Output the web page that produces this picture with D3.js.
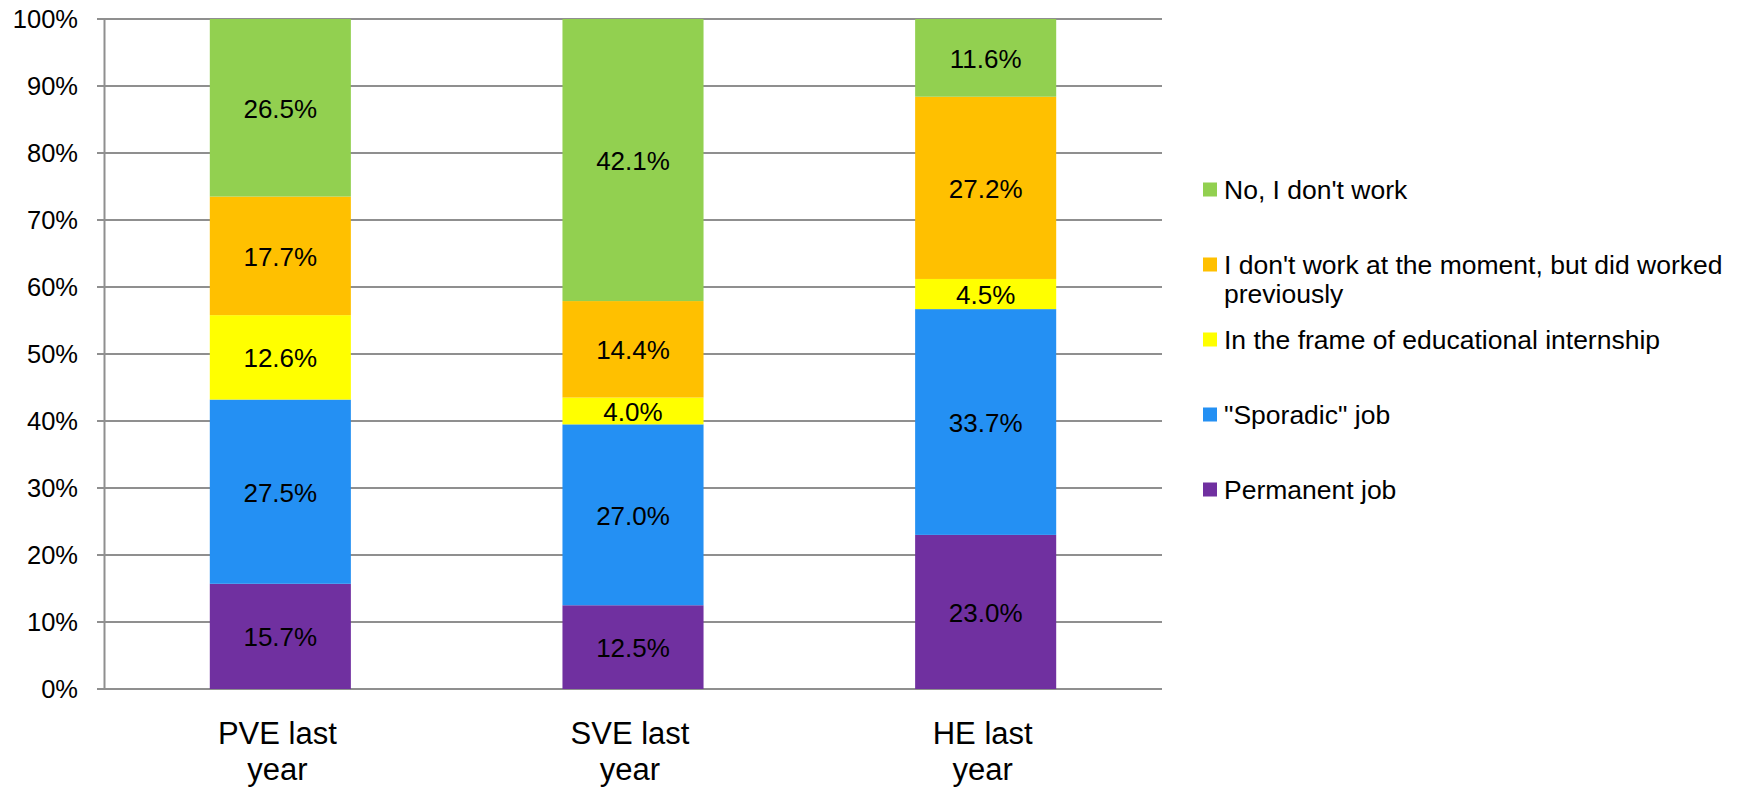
<!DOCTYPE html>
<html>
<head>
<meta charset="utf-8">
<script src="https://cdn.jsdelivr.net/npm/d3@7"></script>
<style>
    body { margin: 0; background: #fff; }
    svg { display: block; font-family: "Liberation Sans", Arial, sans-serif; }
</style>
</head>
<body>
<div id="stacked-bar-chart"></div>
<script>
// data (percentages)
const categories = ["PVE last year", "SVE last year", "HE last year"];
const permanentJob = [15.7, 12.5, 23.0];
const sporadicJob = [27.5, 27.0, 33.7];
const internship = [12.6, 4.0, 4.5];
const previouslyWorked = [17.7, 14.4, 27.2];
const noWork = [26.5, 42.1, 11.6];
const seriesNames = ["Permanent job", "\"Sporadic\" job", "In the frame of educational internship",
    "I don't work at the moment, but did worked previously", "No, I don't work"];
const seriesColors = ["#7030A0", "#2490F3", "#FFFF00", "#FFC000", "#92D050"];
const yTicks = [0, 10, 20, 30, 40, 50, 60, 70, 80, 90, 100];

let margin = {top: 19, right: 579, bottom: 98, left: 104};
let width = 1741 - margin.left - margin.right;
let height = 787 - margin.top - margin.bottom;

let keys = ["permanent", "sporadic", "internship", "previously", "none"];
let dataset = categories.map(function (c, i) {
    return {
        category: c,
        permanent: permanentJob[i],
        sporadic: sporadicJob[i],
        internship: internship[i],
        previously: previouslyWorked[i],
        none: noWork[i]
    };
});

let svg = d3.select("#stacked-bar-chart")
    .append("svg")
    .attr("width", width + margin.left + margin.right)
    .attr("height", height + margin.top + margin.bottom);

let g = svg.append("g")
    .attr("transform", "translate(" + margin.left + "," + margin.top + ")");

let x = d3.scaleBand()
    .domain(categories)
    .range([0, width])
    .paddingInner(0.6)
    .paddingOuter(0.3);

let y = d3.scaleLinear()
    .domain([0, 100])
    .range([height, 0]);

let z = d3.scaleOrdinal()
    .domain(keys)
    .range(seriesColors);

// gridlines (with the little outside tick)
g.append("g")
    .selectAll("line")
    .data(yTicks)
    .enter().append("line")
    .attr("x1", -7)
    .attr("x2", width)
    .attr("y1", function (d) { return y(d); })
    .attr("y2", function (d) { return y(d); })
    .attr("stroke", "#8f8f8f")
    .attr("stroke-width", 2);

// bars
let stacked = d3.stack().keys(keys)(dataset);

let layers = g.append("g")
    .selectAll("g")
    .data(stacked)
    .enter().append("g")
    .attr("fill", function (d) { return z(d.key); });

layers.selectAll("rect")
    .data(function (d) { return d; })
    .enter().append("rect")
    .attr("x", function (d) { return x(d.data.category); })
    .attr("y", function (d) { return y(d[1]); })
    .attr("height", function (d) { return y(d[0]) - y(d[1]); })
    .attr("width", x.bandwidth());

// value labels
layers.selectAll("text")
    .data(function (d) { return d; })
    .enter().append("text")
    .attr("x", function (d) { return x(d.data.category) + x.bandwidth() / 2; })
    .attr("y", function (d) { return (y(d[0]) + y(d[1])) / 2; })
    .attr("dy", "0.38em")
    .attr("text-anchor", "middle")
    .attr("font-size", "26px")
    .attr("fill", "#000")
    .text(function (d) { return (d[1] - d[0]).toFixed(1) + "%"; });

// y axis
let yAxis = g.append("g")
    .call(d3.axisLeft(y)
        .tickValues(yTicks)
        .tickSize(0)
        .tickPadding(26)
        .tickFormat(function (d) { return d + "%"; }));
yAxis.select(".domain").attr("stroke", "#8f8f8f").attr("stroke-width", 2);
yAxis.selectAll(".tick text")
    .attr("dy", "0.33em")
    .attr("font-size", "25.5px")
    .attr("font-family", "Liberation Sans, Arial, sans-serif")
    .attr("fill", "#000");

// x axis labels
let xAxis = g.append("g")
    .attr("transform", "translate(0," + height + ")")
    .call(d3.axisBottom(x).tickSize(0).tickPadding(33));
xAxis.select(".domain").remove();
xAxis.selectAll(".tick text")
    .attr("x", -3)
    .attr("font-size", "31px")
    .attr("font-family", "Liberation Sans, Arial, sans-serif")
    .attr("fill", "#000")
    .call(wrap, x.bandwidth(), 1.17);

// legend
let legendData = seriesNames.map(function (n, i) { return {name: n, color: seriesColors[i]}; }).reverse();

let legend = svg.append("g")
    .attr("font-size", "26.5px")
    .selectAll("g")
    .data(legendData)
    .enter().append("g")
    .attr("transform", function (d, i) { return "translate(1203," + (189.5 + i * 75) + ")"; });

legend.append("rect")
    .attr("x", 0)
    .attr("y", -7)
    .attr("width", 14)
    .attr("height", 14)
    .attr("fill", function (d) { return d.color; });

legend.append("text")
    .attr("x", 21)
    .attr("y", 0)
    .attr("dy", "0.37em")
    .attr("fill", "#000")
    .text(function (d) { return d.name; })
    .call(wrap, 515, 1.1);

// Function to wrap long labels
function wrap(text, width, lineHeight) {
    text.each(function () {
        let text = d3.select(this),
            words = text.text().split(/\s+/).reverse(),
            word,
            line = [],
            lineNumber = 0,
            x = text.attr("x") || 0,
            y = text.attr("y"),
            dy = parseFloat(text.attr("dy")),
            tspan = text.text(null).append("tspan").attr("x", x).attr("y", y).attr("dy", dy + "em");
        while (word = words.pop()) {
            line.push(word);
            tspan.text(line.join(" "));
            if (tspan.node().getComputedTextLength() > width && line.length > 1) {
                line.pop();
                tspan.text(line.join(" "));
                line = [word];
                tspan = text.append("tspan").attr("x", x).attr("y", y).attr("dy", `${++lineNumber * lineHeight + dy}em`).text(word);
            }
        }
    });
}
</script>
</body>
</html>
